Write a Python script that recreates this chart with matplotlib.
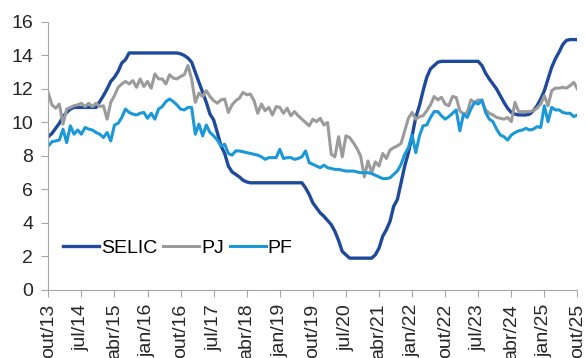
import numpy as np
from matplotlib import pyplot as plt

plt.rcParams['font.family'] = ['Liberation Sans', 'DejaVu Sans']

# rótulos do eixo x (a cada 9 meses, de out/13 a out/25)
rotulos = ['out/13', 'jul/14', 'abr/15', 'jan/16', 'out/16', 'jul/17', 'abr/18', 'jan/19',
           'out/19', 'jul/20', 'abr/21', 'jan/22', 'out/22', 'jul/23', 'abr/24', 'jan/25', 'out/25']

# taxa SELIC mensal (% a.a.)
selic = [9.15, 9.35, 9.65, 9.95, 10.35, 10.6, 10.8, 10.9, 10.9, 10.9, 10.9, 10.9, 10.9, 10.9,
         11.25, 11.6, 12.0, 12.45, 12.7, 13.05, 13.55, 13.75,
         14.15, 14.15, 14.15, 14.15, 14.15, 14.15, 14.15, 14.15, 14.15, 14.15, 14.15, 14.15, 14.15, 14.15,
         14.1, 14.0, 13.85, 13.6, 13.0, 12.4, 11.8, 11.2, 10.5, 10.15, 9.4, 8.6, 8.15, 7.4, 7.05,
         6.9, 6.75, 6.55, 6.45,
         6.4, 6.4, 6.4, 6.4, 6.4, 6.4, 6.4, 6.4, 6.4, 6.4, 6.4, 6.4, 6.4, 6.4, 6.4,
         6.1, 5.7, 5.2, 4.9, 4.6, 4.4, 4.15, 3.9, 3.5, 2.95, 2.3, 2.1,
         1.9, 1.9, 1.9, 1.9, 1.9, 1.9, 1.9,
         2.1, 2.5, 3.2, 3.6, 4.1, 5.0, 5.4, 6.4, 7.4, 8.2, 9.2, 10.3, 11.0, 11.9, 12.7, 13.2, 13.4, 13.6,
         13.65, 13.65, 13.65, 13.65, 13.65, 13.65, 13.65, 13.65, 13.65, 13.65, 13.65,
         13.4, 12.95, 12.6, 12.3, 12.0, 11.6, 11.2, 10.85, 10.6, 10.5, 10.45, 10.45, 10.45, 10.5,
         10.7, 11.0, 11.4, 11.9, 12.6, 13.3, 13.8, 14.2, 14.65, 14.9, 14.95, 14.95, 14.95]

# taxa de juros pessoa jurídica
pj = [11.75, 11.05, 10.85, 11.1, 9.9, 10.8, 10.9, 11.0, 11.05, 11.15, 10.95, 11.15, 10.95, 11.15,
      10.95, 11.0, 10.2, 11.2, 11.6, 12.1, 12.3, 12.45, 12.3, 12.5, 12.1, 12.6, 12.15, 12.45,
      12.05, 12.9, 12.6, 12.6, 12.3, 12.85, 12.65, 12.6, 12.75, 12.85, 13.4, 12.6, 11.2, 11.75,
      11.55, 11.9, 11.55, 11.3, 11.15, 11.35, 11.4, 10.6, 11.05, 11.3, 11.45, 11.8, 11.65, 11.7,
      11.3, 10.55, 11.1, 10.7, 10.9, 10.45, 10.95, 10.9, 10.55, 10.85, 10.4, 10.65, 10.4, 10.2,
      10.0, 9.8, 10.2, 10.05, 10.25, 9.85, 10.0, 8.1, 7.95, 9.15, 7.95, 9.2, 9.1, 8.8, 8.45,
      8.0, 6.75, 7.7, 7.0, 7.65, 7.4, 8.15, 7.85, 8.35, 8.5, 8.6, 8.75, 9.5, 10.25, 10.6, 10.2,
      10.35, 10.4, 10.7, 11.05, 11.55, 11.35, 11.5, 11.1, 11.0, 11.55, 11.5, 10.7, 10.5, 10.6,
      11.35, 11.2, 11.35, 11.3, 10.75, 10.55, 10.45, 10.3, 10.25, 10.2, 10.3, 10.05, 11.2, 10.65,
      10.65, 10.65, 10.65, 10.7, 10.85, 11.1, 11.6, 11.0, 11.9, 12.05, 12.05, 12.1, 12.05, 12.2,
      12.4, 12.0]

# taxa de juros pessoa física
pf = [8.6, 8.85, 8.9, 8.95, 9.6, 8.8, 9.8, 9.3, 9.55, 9.3, 9.7, 9.6, 9.55, 9.4, 9.3, 9.1, 9.4,
      8.9, 9.85, 9.95, 10.3, 10.8, 10.6, 10.5, 10.45, 10.55, 10.6, 10.25, 10.55, 10.2, 10.8,
      10.95, 11.25, 11.4, 11.25, 11.05, 10.8, 10.75, 10.9, 10.9, 9.3, 9.9, 9.2, 9.85, 9.4, 9.2,
      8.95, 8.6, 8.7, 8.15, 8.05, 8.3, 8.3, 8.25, 8.2, 8.15, 8.1, 8.05, 7.95, 7.8, 7.9, 7.9, 7.9,
      8.4, 7.85, 7.9, 7.9, 7.8, 7.85, 7.95, 8.3, 7.6, 7.5, 7.4, 7.3, 7.45, 7.3, 7.25, 7.2, 7.2,
      7.15, 7.1, 7.1, 7.1, 7.05, 7.0, 7.0, 7.0, 6.95, 6.85, 6.75, 6.65, 6.65, 6.7, 6.9, 7.1, 7.5,
      8.1, 8.5, 9.25, 8.2, 9.2, 9.8, 9.85, 10.3, 10.65, 10.65, 10.4, 10.2, 10.35, 10.55, 10.75,
      9.5, 10.5, 10.3, 10.8, 11.2, 11.1, 11.35, 10.6, 10.2, 10.05, 9.6, 9.25, 9.15, 8.95, 9.25,
      9.4, 9.5, 9.55, 9.65, 9.55, 9.6, 9.75, 9.7, 11.0, 10.05, 10.9, 10.75, 10.75, 10.6, 10.55,
      10.55, 10.35, 10.45]

meses = np.arange(len(selic))

fig = plt.figure(figsize=(5.87, 3.58), dpi=100)
ax = fig.add_axes([0.0823, 0.19, 0.9014, 0.7486])

ax.plot(meses, selic, color='#1F4A9C', linewidth=2.4, label='SELIC')
ax.plot(meses, pj, color='#9B9B9B', linewidth=2.2, label='PJ')
ax.plot(meses, pf, color='#1A98D8', linewidth=2.2, label='PF')

ax.set_xlim(0, len(selic) - 1)
ax.set_ylim(0, 16)
ax.set_yticks(range(0, 17, 2))
ax.set_xticks(range(0, len(selic), 9))
ax.set_xticklabels(rotulos, rotation=90)

# eixos no estilo de planilha
for lado in ['top', 'right']:
    ax.spines[lado].set_visible(False)
for lado in ['left', 'bottom']:
    ax.spines[lado].set_color('#A6A6A6')
ax.tick_params(axis='both', colors='#A6A6A6', labelcolor='#262626', labelsize=14, length=5)
ax.tick_params(axis='y', pad=6)
ax.tick_params(axis='x', pad=5)

ax.legend(loc='center left', bbox_to_anchor=(0.028, 0.157), ncol=3, frameon=False, fontsize=14,
          handlelength=1.85, handletextpad=0.1, columnspacing=0.3, borderaxespad=0, borderpad=0)

plt.savefig('out.png', dpi=100)
